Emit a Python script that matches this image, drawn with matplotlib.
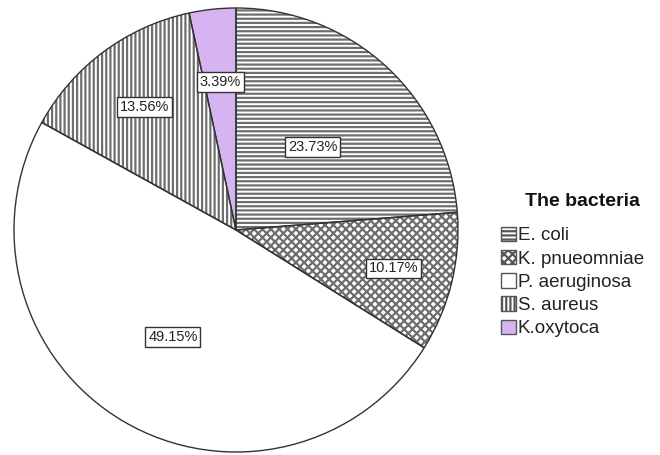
import matplotlib.pyplot as plt
from matplotlib.patches import Patch
import numpy as np

bacteria = ["E. coli", "K. pnueomniae", "P. aeruginosa", "S. aureus", "K.oxytoca"]
percent = [23.73, 10.17, 49.15, 13.56, 3.39]
hatches = ["----", "xxxx", "", "||||", ""]
colors = ["white", "white", "white", "white", "#d6b4f2"]
# radial position of each percentage box (fraction of the radius)
label_r = [0.51, 0.73, 0.56, 0.69, 0.67]

plt.rcParams["font.family"] = ["Arial", "Liberation Sans", "DejaVu Sans"]
plt.rcParams["hatch.linewidth"] = 1.6

fig = plt.figure(figsize=(6.6, 4.55), dpi=100)
ax = fig.add_axes([14 / 660, 3 / 455, 444 / 660, 444 / 455])

wedges, _ = ax.pie(percent, colors=colors, startangle=90, counterclock=False,
                   wedgeprops=dict(edgecolor="#6e6e6e", linewidth=0))
for w, h in zip(wedges, hatches):
    w.set_hatch(h)

# outlines drawn on top in a darker tone
ax.pie(percent, colors=["none"] * 5, startangle=90, counterclock=False,
       wedgeprops=dict(edgecolor="#333333", linewidth=1.0, fill=False))

for w, p, r in zip(wedges, percent, label_r):
    ang = np.deg2rad((w.theta1 + w.theta2) / 2)
    ax.text(r * np.cos(ang), r * np.sin(ang), f"{p:.2f}%", ha="center", va="center",
            fontsize=10.5, color="#222222",
            bbox=dict(boxstyle="square,pad=0.2", fc="white", ec="#333333", lw=1.0))

ax.set_xlim(-1, 1)
ax.set_ylim(-1, 1)
ax.set_aspect("equal")

fig.text(582 / 660, 1 - 201 / 455, "The bacteria", ha="center", va="center",
         fontsize=14, fontweight="bold", color="#111111")

handles = [Patch(facecolor=c, edgecolor="#555555", hatch=h, linewidth=1.0)
           for c, h in zip(colors, hatches)]
leg = fig.legend(handles, bacteria, loc="center left",
                 bbox_to_anchor=(501 / 660, 1 - 282 / 455), frameon=False,
                 borderaxespad=0, borderpad=0,
                 fontsize=13.5, handlelength=0.8, handleheight=0.8, handletextpad=0.1,
                 labelspacing=0.3)
for t in leg.get_texts():
    t.set_color("#222222")

fig.savefig("out.png", dpi=100)
